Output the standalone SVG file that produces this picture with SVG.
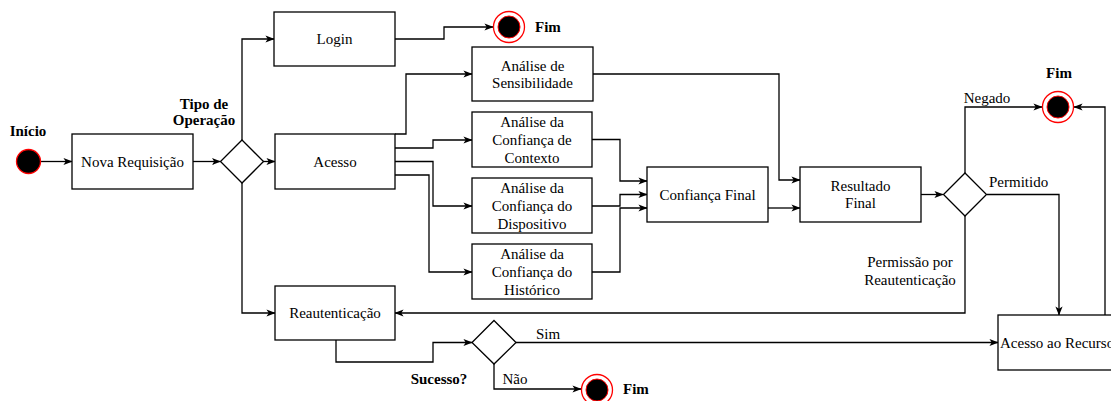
<svg xmlns="http://www.w3.org/2000/svg" width="1111" height="401" viewBox="0 0 1111 401">
<defs>
<marker id="arr" viewBox="0 0 10 10" refX="9.5" refY="5" markerWidth="9" markerHeight="9" markerUnits="userSpaceOnUse" orient="auto">
<path d="M0,1 L10,5 L0,9 L2.5,5 z" fill="#000"/>
</marker>
</defs>
<style>
.box{fill:#fff;stroke:#000;stroke-width:1.3}
.dia{fill:#fff;stroke:#000;stroke-width:1.3}
.t{font-family:"Liberation Serif","Times New Roman",serif;font-size:15px;fill:#000;text-anchor:middle}
.b{font-weight:bold}
.l{text-anchor:start}
.c{fill:none;stroke:#000;stroke-width:1.3;marker-end:url(#arr)}
.start{fill:#000;stroke:#f00;stroke-width:1.3}
.endo{fill:#fff;stroke:#f00;stroke-width:1.3}
.endi{fill:#000;stroke:#f00;stroke-width:1}
</style>
<rect width="1111" height="401" fill="#fff"/>
<g id="connectors">
<path class="c" d="M41,161.5 H72"/>
<path class="c" d="M193,161.5 H220.5"/>
<path class="c" d="M263,161.5 H275"/>
<path class="c" d="M242,140 V39 H274"/>
<path class="c" d="M242,183 V313 H275"/>
<path class="c" d="M395,39 H444 V27 H493"/>
<path class="c" d="M395,134 H406 V74 H472"/>
<path class="c" d="M395,148 H433 V140 H472"/>
<path class="c" d="M395,161.5 H433 V206 H472"/>
<path class="c" d="M395,175 H429 V272 H472"/>
<path class="c" d="M592,139.5 H620 V181 H647"/>
<path class="c" d="M592,206 H620 V194.5 H647"/>
<path class="c" d="M592,272 H620 V208 H647"/>
<path class="c" d="M593,74 H779 V180 H800"/>
<path class="c" d="M768,208 H800"/>
<path class="c" d="M921,194.5 H943"/>
<path class="c" d="M965,173 V107 H1042"/>
<path class="c" d="M987,194.5 H1059 V315"/>
<path class="c" d="M965,216 V313 H395"/>
<path class="c" d="M336,340 V362 H433 V342.5 H472"/>
<path class="c" d="M516,342.5 H998"/>
<path class="c" d="M494,364 V389 H581"/>
<path class="c" d="M1105,315 V107 H1074"/>
<text class="t" x="987" y="103">Negado</text>
<text class="t l" x="989" y="187">Permitido</text>
<text class="t" x="910" y="267">Permissão por</text>
<text class="t" x="910" y="285">Reautenticação</text>
<text class="t" x="548" y="339">Sim</text>
<text class="t" x="515" y="384">Não</text>
</g>
<g id="inicio">
<circle class="start" cx="28.5" cy="161.5" r="12"/>
<text class="t b" x="28" y="136">Início</text>
</g>
<g id="nova">
<rect class="box" x="72" y="134" width="121" height="55"/>
<text class="t" x="132.5" y="166.5">Nova Requisição</text>
</g>
<g id="tipo">
<polygon class="dia" points="242,140 263.5,161.5 242,183 220.5,161.5"/>
<text class="t b" x="204" y="109">Tipo de</text>
<text class="t b" x="204" y="125">Operação</text>
</g>
<g id="login">
<rect class="box" x="274" y="12" width="121" height="54"/>
<text class="t" x="334.5" y="44">Login</text>
</g>
<g id="fim1">
<circle class="endo" cx="509" cy="27" r="15.5"/>
<circle class="endi" cx="509" cy="27" r="11"/>
<text class="t b l" x="535" y="32">Fim</text>
</g>
<g id="acesso">
<rect class="box" x="275" y="134" width="120" height="55"/>
<text class="t" x="335" y="166.5">Acesso</text>
</g>
<g id="sens">
<rect class="box" x="472" y="47" width="121" height="54"/>
<text class="t" x="532.5" y="70.5">Análise de</text>
<text class="t" x="532.5" y="87.5">Sensibilidade</text>
</g>
<g id="contexto">
<rect class="box" x="472" y="112" width="120" height="55"/>
<text class="t" x="532" y="127">Análise da</text>
<text class="t" x="532" y="145">Confiança de</text>
<text class="t" x="532" y="163">Contexto</text>
</g>
<g id="dispositivo">
<rect class="box" x="472" y="178" width="120" height="55"/>
<text class="t" x="532" y="193">Análise da</text>
<text class="t" x="532" y="211">Confiança do</text>
<text class="t" x="532" y="229">Dispositivo</text>
</g>
<g id="historico">
<rect class="box" x="472" y="244" width="120" height="55"/>
<text class="t" x="532" y="259">Análise da</text>
<text class="t" x="532" y="277">Confiança do</text>
<text class="t" x="532" y="295">Histórico</text>
</g>
<g id="conffinal">
<rect class="box" x="647" y="167" width="121" height="55"/>
<text class="t" x="707.5" y="199.5">Confiança Final</text>
</g>
<g id="resultado">
<rect class="box" x="800" y="167" width="121" height="55"/>
<text class="t" x="860.5" y="191">Resultado</text>
<text class="t" x="860.5" y="208">Final</text>
</g>
<g id="decisao">
<polygon class="dia" points="965,173 986.5,194.5 965,216 943.5,194.5"/>
</g>
<g id="fim2">
<circle class="endo" cx="1058" cy="107" r="15.5"/>
<circle class="endi" cx="1058" cy="107" r="11"/>
<text class="t b" x="1059" y="78">Fim</text>
</g>
<g id="recurso">
<rect class="box" x="998" y="315" width="121" height="55"/>
<text class="t l" x="1000" y="347.5">Acesso ao Recurso</text>
</g>
<g id="reaut">
<rect class="box" x="275" y="286" width="120" height="54"/>
<text class="t" x="335" y="318">Reautenticação</text>
</g>
<g id="sucesso">
<polygon class="dia" points="494,320.5 516,342.5 494,364 472,342.5"/>
<text class="t b" x="439" y="384">Sucesso?</text>
</g>
<g id="fim3">
<circle class="endo" cx="597" cy="390" r="15.5"/>
<circle class="endi" cx="597" cy="390" r="11"/>
<text class="t b l" x="623" y="394">Fim</text>
</g>
</svg>
